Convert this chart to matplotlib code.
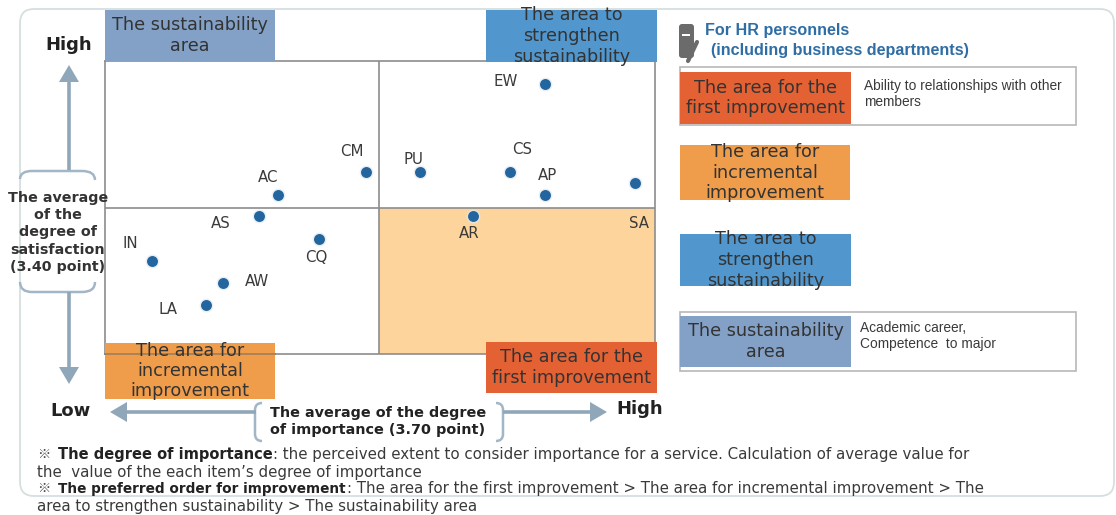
import matplotlib
matplotlib.use('Agg')
from matplotlib import pyplot as plt
from matplotlib.patches import FancyBboxPatch, Rectangle, Polygon, PathPatch
from matplotlib.path import Path

plt.rcParams['font.family'] = ['DejaVu Sans']

# no scale printed on the chart so these are plot positions
items = ['EW', 'CS', 'AP', 'SA', 'AR', 'PU', 'CM', 'AC', 'AS', 'CQ', 'IN', 'AW', 'LA']
importance = [545, 510, 545, 635, 473, 420, 366, 278, 259, 319, 152, 223, 206]
satisfaction = [84, 172, 195, 183, 216, 172, 172, 195, 216, 239, 261, 283, 305]
label_x = [506, 522, 547, 639, 469, 413, 352, 268, 221, 316, 130, 257, 168]
label_y = [82, 149, 175, 224, 234, 160, 152, 177, 224, 257, 243, 282, 310]

RED = '#e46133'
ORANGE = '#ef9c4b'
BLUE = '#5197cd'
SLATE = '#83a1c6'
PEACH = '#fdd49b'
ARROW = '#90a7b9'
TXT = '#3a3a3a'
LINE = '#8c8c8c'

fig = plt.figure(figsize=(11.16, 5.15), dpi=100)


def layer(name):
    a = fig.add_axes([0, 0, 1, 1], label=name)
    a.set_xlim(0, 1116)
    a.set_ylim(515, 0)
    a.axis('off')
    a.patch.set_alpha(0)
    return a


bg = layer('bg')
# outer rounded frame
bg.add_patch(FancyBboxPatch((20, 9), 1094, 487, boxstyle='round,pad=0,rounding_size=14',
                            fc='white', ec='#d5dfe0', lw=1.3))

# quadrant plot
ax = fig.add_axes([105 / 1116, 1 - 354 / 515, 550 / 1116, 293 / 515])
ax.set_xlim(105, 655)
ax.set_ylim(354, 61)
ax.patch.set_alpha(0)
ax.set_xticks([])
ax.set_yticks([])
for s in ax.spines.values():
    s.set_color(LINE)
    s.set_linewidth(1.2)
ax.add_patch(Rectangle((379, 208), 276, 146, fc=PEACH, ec='none', zorder=0))
ax.axvline(379, color=LINE, lw=1.2, zorder=1)
ax.axhline(208, color=LINE, lw=1.2, zorder=1)
ax.scatter(importance, satisfaction, s=100, color='#e3e9ef', alpha=0.7, zorder=2, linewidths=0)
ax.scatter(importance, satisfaction, s=62, color='#23659f', zorder=3, linewidths=0)


def box(a, x, y, w, h, col, lines, fs=12.7, alpha=1):
    a.add_patch(Rectangle((x, y), w, h, fc=col, ec='none', alpha=alpha))
    n = len(lines)
    for i, t in enumerate(lines):
        a.text(x + w / 2, y + h / 2 + (i - (n - 1) / 2) * 20.5, t, ha='center', va='center',
               fontsize=fs, color='#333333')


last = layer('last')
for name, lx, ly in zip(items, label_x, label_y):
    last.text(lx, ly, name, ha='center', va='center', fontsize=10.8, color=TXT)

box(last, 105, 10, 170, 51, SLATE, ['The sustainability', 'area'])
box(last, 486, 10, 171, 52, BLUE, ['The area to', 'strengthen', 'sustainability'])
box(last, 105, 343, 170, 56, ORANGE, ['The area for', 'incremental', 'improvement'])
last.plot([105, 275], [354, 354], color='#7d7060', lw=1.2, alpha=0.7)
box(last, 486, 342, 171, 51, RED, ['The area for the', 'first improvement'])

# right column
last.add_patch(Rectangle((680, 67), 396, 58, fc='white', ec='#b8b8b8', lw=1.2))
last.add_patch(Rectangle((680, 312), 396, 59, fc='white', ec='#b8b8b8', lw=1.2))
box(last, 680, 72, 171, 52, RED, ['The area for the', 'first improvement'])
box(last, 680, 145, 170, 55, ORANGE, ['The area for', 'incremental', 'improvement'])
box(last, 680, 234, 171, 52, BLUE, ['The area to', 'strengthen', 'sustainability'])
box(last, 680, 316, 171, 51, SLATE, ['The sustainability', 'area'])

last.text(864, 86, 'Ability to relationships with other', fontsize=9.95, color=TXT, va='center', family='Liberation Sans')
last.text(864, 102, 'members', fontsize=9.95, color=TXT, va='center', family='Liberation Sans')
last.text(860, 328, 'Academic career,', fontsize=9.95, color=TXT, va='center', family='Liberation Sans')
last.text(860, 344, 'Competence  to major', fontsize=9.95, color=TXT, va='center', family='Liberation Sans')

last.text(705, 31, 'For HR personnels', fontsize=11.6, fontweight='bold', color='#2f6ea5', va='center', family='Liberation Sans')
last.text(711, 51, '(including business departments)', fontsize=11.6, fontweight='bold', color='#2f6ea5', va='center', family='Liberation Sans')

# little clipboard icon
last.add_patch(FancyBboxPatch((679, 24), 15, 34, boxstyle='round,pad=0,rounding_size=3', fc='#6b6b6b', ec='none'))
last.add_patch(Rectangle((682, 34), 8, 2, fc='white', ec='none'))
last.plot([688, 697], [61, 42], color='#6b6b6b', lw=3, solid_capstyle='round')

# axis end words
last.text(69, 45, 'High', fontsize=13, fontweight='bold', color='#222222', ha='center', va='center')
last.text(70, 411, 'Low', fontsize=13, fontweight='bold', color='#222222', ha='center', va='center')
last.text(640, 409, 'High', fontsize=13, fontweight='bold', color='#222222', ha='center', va='center')


def arrow(x0, y0, x1, y1):
    # shaft then a flat triangular head, 17 long and 10 either side
    dx = (x1 > x0) - (x1 < x0)
    dy = (y1 > y0) - (y1 < y0)
    bx, by = x1 - dx * 17, y1 - dy * 17
    last.plot([x0, bx], [y0, by], color=ARROW, lw=2.6, solid_capstyle='butt')
    last.add_patch(Polygon([(x1, y1), (bx + dy * 10, by + dx * 10), (bx - dy * 10, by - dx * 10)],
                           fc=ARROW, ec='none'))


arrow(69, 170, 69, 65)
arrow(69, 292, 69, 384)
arrow(256, 412, 110, 412)
arrow(503, 412, 607, 412)


def curve(verts, codes):
    last.add_patch(PathPatch(Path(verts, codes), fc='none', ec='#a3b6c6', lw=1.8))


M, L, C = Path.MOVETO, Path.LINETO, Path.CURVE3
# brackets around the y label and the x label
curve([(20, 179), (20, 171), (32, 171), (82, 171), (95, 171), (95, 180)], [M, C, C, L, C, C])
curve([(20, 282), (20, 292), (32, 292), (82, 292), (95, 292), (95, 282)], [M, C, C, L, C, C])
curve([(262, 403), (255, 403), (255, 410), (255, 434), (255, 441), (262, 441)], [M, C, C, L, C, C])
curve([(496, 403), (503, 403), (503, 410), (503, 434), (503, 441), (496, 441)], [M, C, C, L, C, C])

ylab = ['The average', 'of the', 'degree of', 'satisfaction', '(3.40 point)']
for i, t in enumerate(ylab):
    last.text(58, 198 + i * 17.2, t, fontsize=10.3, fontweight='bold', color='#333333', ha='center', va='center')
last.text(378, 413, 'The average of the degree', fontsize=10.4, fontweight='bold', color='#222222', ha='center', va='center')
last.text(378, 430, 'of importance (3.70 point)', fontsize=10.4, fontweight='bold', color='#222222', ha='center', va='center')

# notes
last.text(37, 455, '※', fontsize=9.5, color=TXT, va='center', family=['Noto Sans CJK SC', 'DejaVu Sans'])
last.text(58, 455, 'The degree of importance', fontsize=10.5, fontweight='bold', color='#222222', va='center')
last.text(273, 455, ': the perceived extent to consider importance for a service. Calculation of average value for',
          fontsize=10.85, color=TXT, va='center')
last.text(37, 472, 'the  value of the each item’s degree of importance', fontsize=10.85, color=TXT, va='center')
last.text(37, 489, '※', fontsize=9.5, color=TXT, va='center', family=['Noto Sans CJK SC', 'DejaVu Sans'])
last.text(58, 489, 'The preferred order for improvement', fontsize=9.8, fontweight='bold', color='#222222', va='center')
last.text(347, 489, ': The area for the first improvement > The area for incremental improvement > The',
          fontsize=10.8, color=TXT, va='center')
last.text(37, 506, 'area to strengthen sustainability > The sustainability area', fontsize=10.8, color=TXT, va='center')

fig.savefig('out.png', dpi=100)
